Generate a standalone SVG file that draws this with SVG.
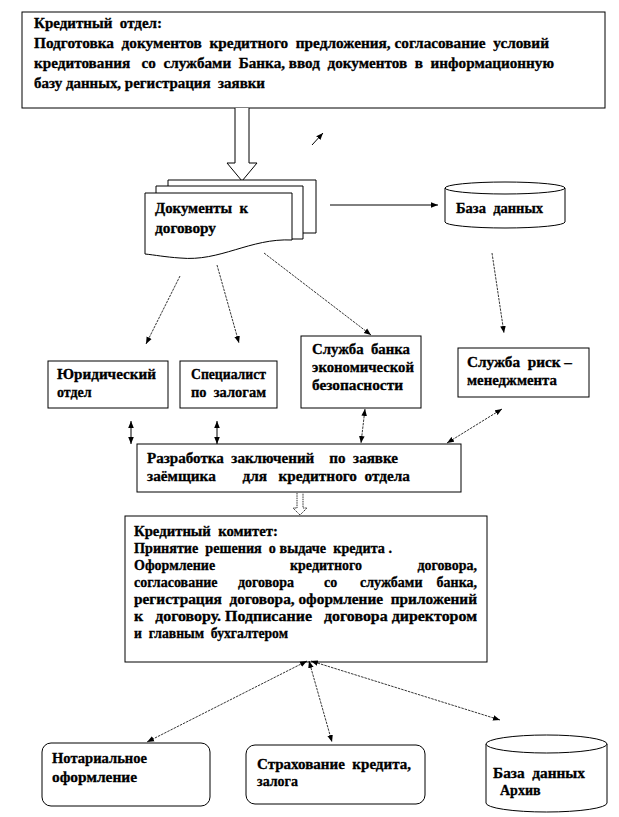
<svg xmlns="http://www.w3.org/2000/svg" width="619" height="817" viewBox="0 0 619 817">
<style>
.t{font-family:"Liberation Serif","Times New Roman",serif;font-weight:bold;font-size:14px;fill:#000;stroke:#000;stroke-width:0.3;white-space:pre}
.box{fill:#fff;stroke:#000;stroke-width:1}
.c{fill:none;stroke:#000;stroke-width:0.8;stroke-dasharray:2.5 1}
.s{fill:none;stroke:#000;stroke-width:1}
</style>
<defs>
<marker id="ah" viewBox="0 0 10 10" refX="10" refY="5" markerWidth="7" markerHeight="7" markerUnits="userSpaceOnUse" orient="auto-start-reverse"><path d="M0,1 L10,5 L0,9 z" fill="#000"/></marker>
</defs>
<rect width="619" height="817" fill="#fff"/>

<g id="credit-dept">
<rect class="box" x="22" y="12" width="583" height="96"/>
<text class="t" x="34" y="28" textLength="128" lengthAdjust="spacingAndGlyphs">Кредитный  отдел:</text>
<text class="t" x="34" y="48" textLength="515" lengthAdjust="spacingAndGlyphs">Подготовка  документов  кредитного  предложения, согласование  условий</text>
<text class="t" x="34" y="68" textLength="520" lengthAdjust="spacingAndGlyphs">кредитования   со  службами  Банка, ввод  документов  в  информационную</text>
<text class="t" x="34" y="88" textLength="231" lengthAdjust="spacingAndGlyphs">базу данных, регистрация  заявки</text>
</g>

<g id="big-arrow">
<path class="box" d="M235,108 V163 H227 L242,181 L257,163 H249 V108"/>
</g>

<g id="documents">
<path class="box" d="M168,180 H316 V233 H168 Z"/>
<path class="box" d="M156,186 H303 V239 H156 Z"/>
<path class="box" d="M145,193 H292 V240 C250,238 220,262 180,258 C165,257 155,255 145,254 Z"/>
<text class="t" x="155" y="213" textLength="93" lengthAdjust="spacingAndGlyphs">Документы  к</text>
<text class="t" x="155" y="233" textLength="61" lengthAdjust="spacingAndGlyphs">договору</text>
</g>

<g id="database">
<path class="box" d="M445,188 V222 A60,6 0 0 0 565,222 V188"/>
<ellipse class="box" cx="505" cy="188" rx="60" ry="6"/>
<text class="t" x="456" y="213" textLength="87" lengthAdjust="spacingAndGlyphs">База  данных</text>
</g>

<g id="legal">
<rect class="box" x="48" y="361" width="120" height="47"/>
<text class="t" x="57" y="379" textLength="99" lengthAdjust="spacingAndGlyphs">Юридический</text>
<text class="t" x="57" y="397">отдел</text>
</g>

<g id="collateral">
<rect class="box" x="180" y="361" width="97" height="47"/>
<text class="t" x="191" y="379" textLength="75" lengthAdjust="spacingAndGlyphs">Специалист</text>
<text class="t" x="191" y="397" textLength="75" lengthAdjust="spacingAndGlyphs">по  залогам</text>
</g>

<g id="security">
<rect class="box" x="301" y="336" width="120" height="72"/>
<text class="t" x="312" y="354" textLength="98" lengthAdjust="spacingAndGlyphs">Служба  банка</text>
<text class="t" x="312" y="372" textLength="102" lengthAdjust="spacingAndGlyphs">экономической</text>
<text class="t" x="312" y="390" textLength="91" lengthAdjust="spacingAndGlyphs">безопасности</text>
</g>

<g id="risk">
<rect class="box" x="458" y="348" width="131" height="49"/>
<text class="t" x="467" y="367" textLength="105" lengthAdjust="spacingAndGlyphs">Служба  риск –</text>
<text class="t" x="467" y="385" textLength="90" lengthAdjust="spacingAndGlyphs">менеджмента</text>
</g>

<g id="conclusions">
<rect class="box" x="137" y="444" width="324" height="48"/>
<text class="t" x="147" y="463" textLength="251" lengthAdjust="spacingAndGlyphs">Разработка  заключений    по  заявке</text>
<text class="t" x="147" y="481" textLength="263" lengthAdjust="spacingAndGlyphs">заёмщика       для   кредитного  отдела</text>
</g>

<g id="small-arrow">
<path fill="#fff" stroke="#000" stroke-width="0.8" stroke-dasharray="1.5 0.8" d="M297,493 V508 H293 L300,515 L307,508 H303 V493"/>
</g>

<g id="committee">
<rect class="box" x="125" y="516" width="362" height="146"/>
<text class="t" x="134" y="536" textLength="144" lengthAdjust="spacingAndGlyphs">Кредитный  комитет:</text>
<text class="t" x="134" y="553" textLength="258" lengthAdjust="spacingAndGlyphs">Принятие  решения  о выдаче  кредита .</text>
<text class="t" y="570"><tspan x="134">Оформление</tspan><tspan x="290">кредитного</tspan><tspan x="477" text-anchor="end">договора,</tspan></text>
<text class="t" y="587"><tspan x="134">согласование</tspan><tspan x="238">договора</tspan><tspan x="324">со</tspan><tspan x="360">службами</tspan><tspan x="477" text-anchor="end">банка,</tspan></text>
<text class="t" x="134" y="604" textLength="343" lengthAdjust="spacingAndGlyphs">регистрация  договора, оформление  приложений</text>
<text class="t" x="134" y="621" textLength="343" lengthAdjust="spacingAndGlyphs">к   договору. Подписание   договора директором</text>
<text class="t" x="134" y="638" textLength="154" lengthAdjust="spacingAndGlyphs">и  главным  бухгалтером</text>
</g>

<g id="notary">
<rect class="box" x="42" y="743" width="168" height="63" rx="9"/>
<text class="t" x="52" y="763" textLength="95" lengthAdjust="spacingAndGlyphs">Нотариальное</text>
<text class="t" x="52" y="782" textLength="85" lengthAdjust="spacingAndGlyphs">оформление</text>
</g>

<g id="insurance">
<rect class="box" x="246" y="745" width="179" height="59" rx="9"/>
<text class="t" x="257" y="769" textLength="154" lengthAdjust="spacingAndGlyphs">Страхование  кредита,</text>
<text class="t" x="257" y="786">залога</text>
</g>

<g id="archive">
<path class="box" d="M486,744 V803 A60.5,9 0 0 0 607,803 V744"/>
<ellipse class="box" cx="546.5" cy="744" rx="60.5" ry="9"/>
<text class="t" x="493" y="778" textLength="92" lengthAdjust="spacingAndGlyphs">База  данных</text>
<text class="t" x="500" y="795">Архив</text>
</g>

<g id="connectors">
<line class="s" x1="312" y1="145" x2="323" y2="133" marker-end="url(#ah)"/>
<line class="s" x1="330" y1="205" x2="438" y2="205" marker-end="url(#ah)"/>
<line class="c" x1="180" y1="276" x2="146" y2="344" marker-end="url(#ah)"/>
<line class="c" x1="217" y1="265" x2="239" y2="343" marker-end="url(#ah)"/>
<line class="c" x1="264" y1="253" x2="371" y2="335" marker-end="url(#ah)"/>
<line class="c" x1="492" y1="253" x2="504" y2="333" marker-end="url(#ah)"/>
<line class="s" x1="131" y1="421" x2="131" y2="444" marker-start="url(#ah)" marker-end="url(#ah)"/>
<line class="s" x1="217" y1="421" x2="217" y2="444" marker-start="url(#ah)" marker-end="url(#ah)"/>
<line class="c" x1="365" y1="409" x2="361" y2="443" marker-start="url(#ah)" marker-end="url(#ah)"/>
<line class="c" x1="502" y1="409" x2="447" y2="443" marker-start="url(#ah)" marker-end="url(#ah)"/>
<line class="c" x1="307" y1="661" x2="147" y2="742" marker-start="url(#ah)" marker-end="url(#ah)"/>
<line class="c" x1="309" y1="661" x2="332" y2="742" marker-start="url(#ah)" marker-end="url(#ah)"/>
<line class="c" x1="311" y1="661" x2="500" y2="720" marker-start="url(#ah)" marker-end="url(#ah)"/>
</g>
</svg>
